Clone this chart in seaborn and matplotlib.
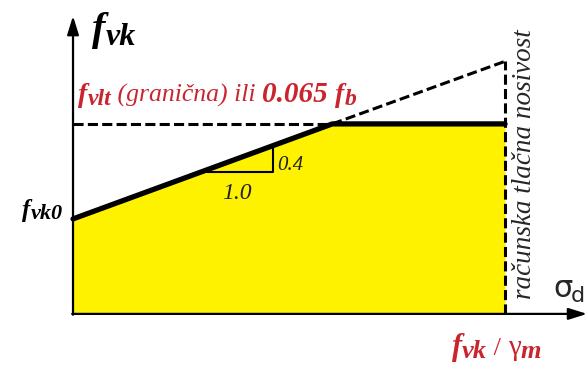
"""Shear strength of masonry f_vk versus design compressive stress sigma_d."""

import numpy as np
import matplotlib
matplotlib.use("Agg")
import matplotlib.pyplot as plt
from matplotlib.transforms import IdentityTransform
import seaborn as sns

# data (x in units of f_vk/gamma_m, y in the same relative units)
sigma_d = [0.0, 0.6, 1.0]
f_vk = [0.22, 0.44, 0.44]
sigma_ext = [0.6, 1.0]
f_ext = [0.44, 0.585]
f_vlt = 0.44
sigma_max = 1.0
slope_run = [0.294, 0.463]
slope_labels = ["1.0", "0.4"]

YELLOW = "#FFF200"
RED = "#C9252E"
SERIF = "Liberation Serif"

sns.set_theme(style="white")
plt.rcParams["font.family"] = [SERIF, "DejaVu Sans"]

fig = plt.figure(figsize=(5.88, 3.67), dpi=100)
ax = fig.add_axes([0, 0, 1, 1])
ax.set_xlim(-0.169, 1.192)
ax.set_ylim(-0.123, 0.727)
ax.axis("off")

# yellow area under the design curve
ax.fill_between(sigma_d, 0, f_vk, color=YELLOW, lw=0, zorder=1)

# dashed guides
dash = (0, (3.3, 1.4))
ax.plot([0, sigma_d[1]], [f_vlt, f_vlt], color="black", lw=2.2, ls=dash, zorder=2)
ax.plot(sigma_ext, f_ext, color="black", lw=2.2, ls=dash, zorder=2)
ax.plot([sigma_max, sigma_max], [0, f_ext[-1]], color="black", lw=2.2, ls=dash, zorder=2)

# design curve
sns.lineplot(x=sigma_d, y=f_vk, color="black", lw=3.8, ax=ax,
             estimator=None, sort=False, zorder=4)

# slope triangle
y0, y1 = np.interp(slope_run, sigma_d, f_vk)
ax.plot([slope_run[0], slope_run[1], slope_run[1]], [y0, y0, y1],
        color="black", lw=1.5, zorder=3)
ax.text(np.mean(slope_run), y0 - 0.062, slope_labels[0], family=SERIF,
        style="italic", fontsize=17, ha="center", va="baseline", color="#222222")
ax.text(slope_run[1] + 0.01, y0 + 0.005, slope_labels[1], family=SERIF,
        style="italic", fontsize=15, ha="left", va="baseline", color="#222222")

# axes with arrows
arrow = dict(arrowstyle="-|>,head_length=0.8,head_width=0.25", lw=1.6,
             color="black", mutation_scale=14, shrinkA=0, shrinkB=0)
ax.annotate("", xy=(0, 0.69), xytext=(0, -0.002), arrowprops=arrow, zorder=5)
ax.annotate("", xy=(1.19, 0), xytext=(-0.002, 0), arrowprops=arrow, zorder=5)

renderer = fig.canvas.get_renderer()


def rich(x, y, parts, color="black"):
    # draw a label piece by piece so subscripts keep their own size
    px, py = ax.transData.transform((x, y))
    for txt, size, weight, style, dy in parts:
        t = ax.text(px, py + dy, txt, transform=IdentityTransform(),
                    family=[SERIF, "DejaVu Sans"], fontsize=size,
                    fontweight=weight, style=style, color=color,
                    ha="left", va="baseline", zorder=6)
        px = t.get_window_extent(renderer).x1


rich(0.044, 0.634, [("f", 29, "bold", "italic", 0),
                    ("vk", 23, "bold", "italic", -5)])
rich(-0.118, 0.2245, [("f", 18, "bold", "italic", 0),
                      ("vk0", 16, "bold", "italic", -2)])
rich(0.012, 0.491, [("f", 20, "bold", "italic", 0),
                    ("vlt", 17, "bold", "italic", -3),
                    (" (granična) ili ", 18.5, "normal", "italic", 0),
                    ("0.065 ", 21, "bold", "italic", 0),
                    ("f", 20, "bold", "italic", 0),
                    ("b", 17, "bold", "italic", -3)], color=RED)
rich(0.877, -0.095, [("f", 22, "bold", "italic", 0),
                     ("vk", 19, "bold", "italic", -3),
                     (" / ", 19, "normal", "normal", 0),
                     ("γ", 21, "normal", "normal", 0),
                     ("m", 19, "bold", "italic", -3)], color=RED)

# sigma_d axis label
ax.text(1.111, 0.039, "σ", family="DejaVu Sans", fontsize=22,
        ha="left", va="baseline")
ax.text(1.153, 0.027, "d", family="DejaVu Sans", fontsize=16,
        ha="left", va="baseline")

ax.text(1.045, 0.348, "računska tlačna nosivost", family=SERIF,
        style="italic", fontsize=19.5, rotation=90, ha="center", va="center")

fig.savefig("out.png", dpi=100)
plt.close(fig)
